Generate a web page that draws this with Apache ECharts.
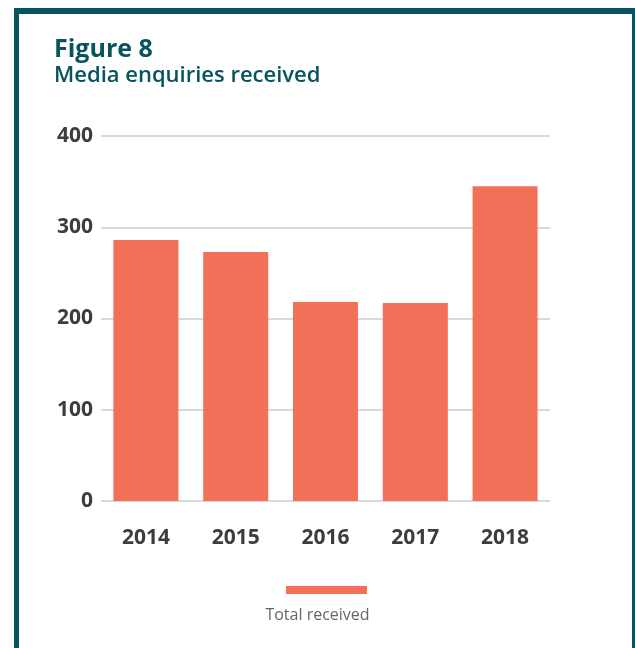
<!DOCTYPE html>
<html>
<head>
<meta charset="utf-8">
<title>Figure 8 – Media enquiries received</title>
<script src="https://cdn.jsdelivr.net/npm/echarts@6/dist/echarts.min.js"></script>
<style>
  html, body { margin: 0; padding: 0; background: #ffffff; }
  #chart { width: 635px; height: 648px; }
</style>
</head>
<body>
<div id="chart"></div>
<script>
// Yearly media enquiries
const years = ['2014', '2015', '2016', '2017', '2018'];
const totalReceived = [286, 273, 218, 217, 345];
const yTicks = [0, 100, 200, 300, 400];

const titleText = 'Figure 8';
const subtitleText = 'Media enquiries received';
const seriesName = 'Total received';

const teal = '#07535f';
const barColor = '#f26f58';
const labelFont = '"Open Sans", "Liberation Sans", sans-serif';

const chart = echarts.init(document.getElementById('chart'), null, { renderer: 'canvas' });

chart.setOption({
  backgroundColor: '#ffffff',
  animation: false,
  title: {
    text: titleText,
    subtext: subtitleText,
    left: 54,
    top: 37,
    itemGap: 3,
    padding: 0,
    textStyle: { fontFamily: labelFont, fontSize: 25, fontWeight: 'bold', color: teal },
    subtextStyle: { fontFamily: labelFont, fontSize: 22, fontWeight: 600, color: teal }
  },
  legend: {
    data: [seriesName],
    left: 286,
    top: 586,
    padding: 0,
    itemWidth: 81,
    itemHeight: 8,
    icon: 'rect',
    formatter: () => '',
    selectedMode: false
  },
  grid: { left: 101, right: 85, top: 136, bottom: 147, containLabel: false },
  xAxis: {
    type: 'category',
    data: years,
    axisLine: { show: false },
    axisTick: { show: false },
    axisLabel: {
      margin: 27,
      fontFamily: labelFont,
      fontSize: 21,
      fontWeight: 'bold',
      color: '#3d3d3d'
    }
  },
  yAxis: {
    type: 'value',
    min: yTicks[0],
    max: yTicks[yTicks.length - 1],
    interval: 100,
    axisLine: { show: false },
    axisTick: { show: false },
    splitLine: { lineStyle: { color: '#cccccc', width: 1.5 } },
    axisLabel: {
      margin: 8,
      fontFamily: labelFont,
      fontSize: 21,
      fontWeight: 'bold',
      color: '#3d3d3d'
    }
  },
  series: [{
    name: seriesName,
    type: 'bar',
    data: totalReceived,
    barCategoryGap: '27.6%',
    itemStyle: { color: barColor }
  }],
  graphic: [
    // dark teal frame around the figure
    { type: 'rect', silent: true, shape: { x: 14, y: 8, width: 621, height: 6 }, style: { fill: teal } },
    { type: 'rect', silent: true, shape: { x: 14, y: 8, width: 5, height: 640 }, style: { fill: teal } },
    { type: 'rect', silent: true, shape: { x: 632, y: 8, width: 3, height: 640 }, style: { fill: teal } },
    // legend caption under the swatch
    {
      type: 'text',
      left: 'center',
      top: 607,
      style: {
        text: seriesName,
        fontFamily: labelFont,
        fontSize: 16,
        fill: '#666666'
      }
    }
  ]
});
</script>
</body>
</html>
